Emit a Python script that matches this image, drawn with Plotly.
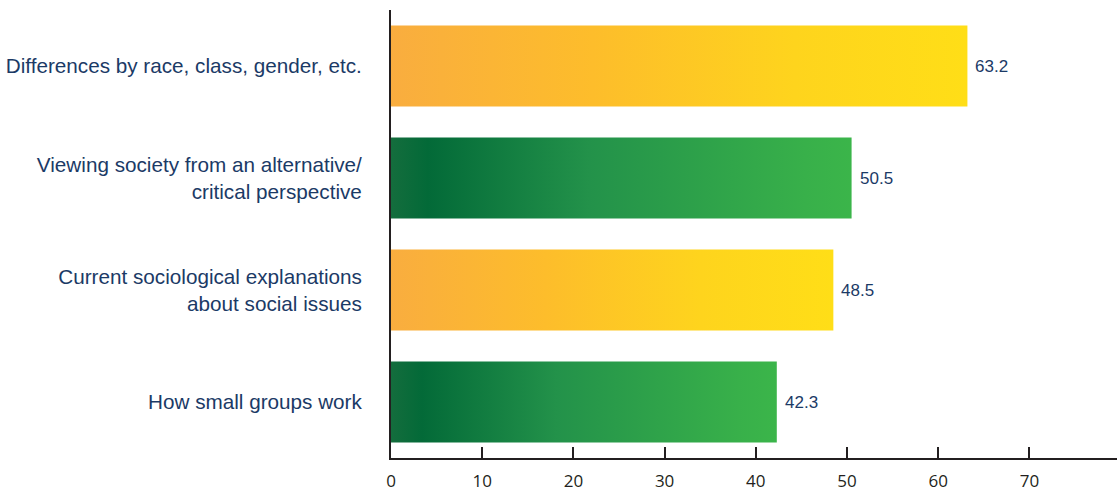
import plotly.graph_objects as go

# Survey topics (top to bottom) and their scores
categories = [
    "Differences by race, class, gender, etc.",
    "Viewing society from an alternative/<br>critical perspective",
    "Current sociological explanations<br>about social issues",
    "How small groups work",
]
values = [63.2, 50.5, 48.5, 42.3]
value_labels = ["63.2", "50.5", "48.5", "42.3"]
x_ticks = [0, 10, 20, 30, 40, 50, 60, 70]

# Alternating gradient styles for the bars
orange_scale = [[0, "#f9ad3f"], [0.35, "#fdbd2b"], [0.7, "#fed41d"], [1, "#ffde17"]]
green_scale = [[0, "#146d3d"], [0.08, "#036a38"], [0.43, "#23924a"],
               [0.9, "#38b04a"], [1, "#3bb54a"]]
bar_scales = [orange_scale, green_scale, orange_scale, green_scale]

half_height = 0.362  # half of the bar thickness in category units
navy = "#1b3a66"
axis_color = "#231f20"
label_font = "Liberation Sans, Arial, sans-serif"

fig = go.Figure()
for i, (v, scale) in enumerate(zip(values, bar_scales)):
    fig.add_trace(go.Scatter(
        x=[0, v, v, 0, 0],
        y=[i - half_height, i - half_height, i + half_height, i + half_height, i - half_height],
        mode="lines",
        line=dict(width=0),
        fill="toself",
        fillgradient=dict(type="horizontal", colorscale=scale),
        hoverinfo="skip",
        showlegend=False,
    ))

for i, (v, lab) in enumerate(zip(values, value_labels)):
    fig.add_annotation(
        x=v, y=i, text=lab, showarrow=False,
        xanchor="left", yanchor="middle", xshift=6,
        font=dict(family=label_font, size=17, color=navy),
    )

fig.update_layout(
    width=1117, height=493,
    margin=dict(l=391, r=0, t=10, b=35, autoexpand=False),
    paper_bgcolor="white",
    plot_bgcolor="white",
    xaxis=dict(
        range=[0, 79.6],
        tickvals=x_ticks,
        ticktext=[str(t) for t in x_ticks],
        ticks="inside", ticklen=11, tickwidth=2, tickcolor=axis_color,
        ticklabelstandoff=7,
        showline=True, linecolor=axis_color, linewidth=2,
        showgrid=False, zeroline=False, automargin=False,
        tickfont=dict(family="Open Sans, sans-serif", size=17, color=axis_color),
    ),
    yaxis=dict(
        range=[3.5, -0.5],
        tickvals=list(range(len(categories))),
        ticktext=categories,
        ticks="", ticklabelstandoff=23,
        showline=True, linecolor=axis_color, linewidth=2,
        showgrid=False, zeroline=False, automargin=False,
        tickfont=dict(family=label_font, size=20.7, color=navy),
    ),
)

fig.write_html("out.html")
